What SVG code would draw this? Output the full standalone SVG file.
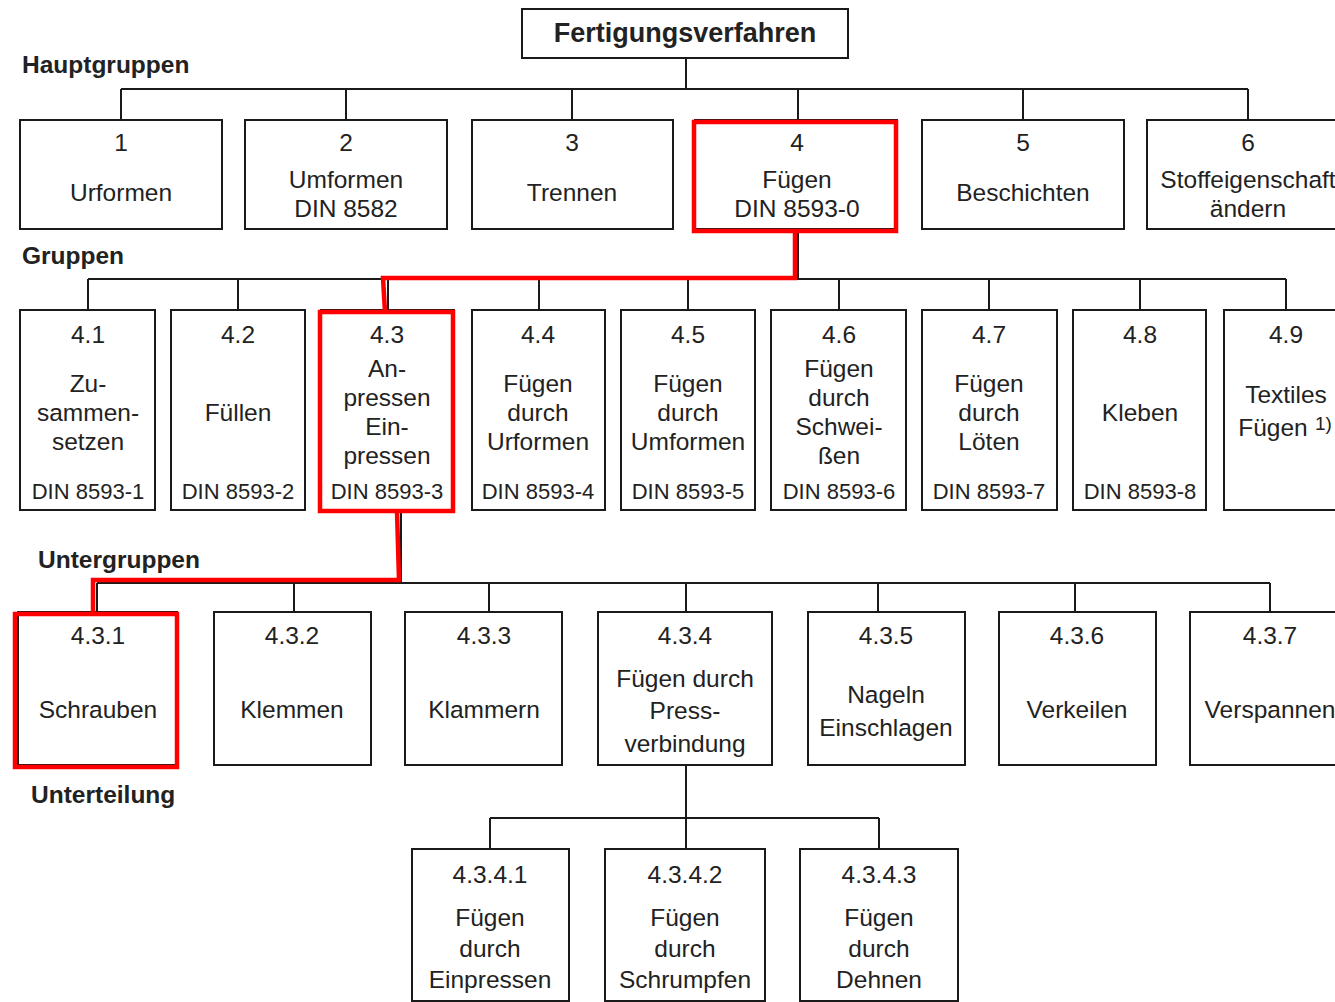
<svg xmlns="http://www.w3.org/2000/svg" width="1335" height="1002" viewBox="0 0 1335 1002">
<style>
  text { font-family: "Liberation Sans", Arial, sans-serif; font-size: 24.5px; fill: #222; text-anchor: middle; }
  .lbl { font-weight: bold; text-anchor: start; }
  .title { font-weight: bold; font-size: 27px; }
  .din { font-size: 22px; }
  .sup { font-size: 19px; }
  rect.box { fill: #fff; stroke: #1a1a1a; stroke-width: 2; }
  .conn line, .conn path { stroke: #1a1a1a; stroke-width: 2; fill: none; }
  .hl { fill: none; stroke: #ff0000; stroke-width: 4.5; }
</style>
<rect x="0" y="0" width="1335" height="1002" fill="#fff"/>

<g class="conn" id="connectors">
  <line x1="686" y1="58" x2="686" y2="89"/>
  <line x1="121" y1="89" x2="1248" y2="89"/>
  <line x1="121" y1="89" x2="121" y2="120"/>
  <line x1="346" y1="89" x2="346" y2="120"/>
  <line x1="572" y1="89" x2="572" y2="120"/>
  <line x1="798" y1="89" x2="798" y2="120"/>
  <line x1="1023" y1="89" x2="1023" y2="120"/>
  <line x1="1248" y1="89" x2="1248" y2="120"/>
  <line x1="798" y1="229" x2="798" y2="279"/>
  <line x1="88" y1="279" x2="1286" y2="279"/>
  <line x1="88" y1="279" x2="88" y2="310"/>
  <line x1="238" y1="279" x2="238" y2="310"/>
  <line x1="388" y1="279" x2="388" y2="310"/>
  <line x1="539" y1="279" x2="539" y2="310"/>
  <line x1="688" y1="279" x2="688" y2="310"/>
  <line x1="839" y1="279" x2="839" y2="310"/>
  <line x1="989" y1="279" x2="989" y2="310"/>
  <line x1="1140" y1="279" x2="1140" y2="310"/>
  <line x1="1286" y1="279" x2="1286" y2="310"/>
  <line x1="401" y1="510" x2="401" y2="583"/>
  <line x1="97" y1="583" x2="1270" y2="583"/>
  <line x1="97" y1="583" x2="97" y2="612"/>
  <line x1="294" y1="583" x2="294" y2="612"/>
  <line x1="489" y1="583" x2="489" y2="612"/>
  <line x1="686" y1="583" x2="686" y2="612"/>
  <line x1="878" y1="583" x2="878" y2="612"/>
  <line x1="1075" y1="583" x2="1075" y2="612"/>
  <line x1="1270" y1="583" x2="1270" y2="612"/>
  <line x1="686" y1="765" x2="686" y2="818"/>
  <line x1="490" y1="818" x2="879" y2="818"/>
  <line x1="490" y1="818" x2="490" y2="849"/>
  <line x1="686" y1="818" x2="686" y2="849"/>
  <line x1="879" y1="818" x2="879" y2="849"/>
</g>

<g id="labels">
  <text class="lbl" x="22" y="73">Hauptgruppen</text>
  <text class="lbl" x="22" y="264">Gruppen</text>
  <text class="lbl" x="38" y="568">Untergruppen</text>
  <text class="lbl" x="31" y="803">Unterteilung</text>
</g>

<g id="root">
  <rect class="box" x="522" y="9" width="326" height="49"/>
  <text class="title" x="685" y="42">Fertigungsverfahren</text>
</g>

<g id="hg1"><rect class="box" x="20" y="120" width="202" height="109"/>
  <text x="121" y="151">1</text><text x="121" y="201">Urformen</text></g>
<g id="hg2"><rect class="box" x="245" y="120" width="202" height="109"/>
  <text x="346" y="151">2</text><text x="346" y="188">Umformen</text><text x="346" y="217">DIN 8582</text></g>
<g id="hg3"><rect class="box" x="472" y="120" width="201" height="109"/>
  <text x="572" y="151">3</text><text x="572" y="201">Trennen</text></g>
<g id="hg4"><rect class="box" x="695" y="120" width="202" height="109"/>
  <text x="797" y="151">4</text><text x="797" y="188">Fügen</text><text x="797" y="217">DIN 8593-0</text></g>
<g id="hg5"><rect class="box" x="922" y="120" width="202" height="109"/>
  <text x="1023" y="151">5</text><text x="1023" y="201">Beschichten</text></g>
<g id="hg6"><rect class="box" x="1147" y="120" width="210" height="109"/>
  <text x="1248" y="151">6</text><text x="1248" y="188">Stoffeigenschaft</text><text x="1248" y="217">ändern</text></g>

<g id="g41"><rect class="box" x="20" y="310" width="135" height="200"/>
  <text x="88" y="343">4.1</text><text x="88" y="392">Zu-</text><text x="88" y="421">sammen-</text><text x="88" y="450">setzen</text><text class="din" x="88" y="499">DIN 8593-1</text></g>
<g id="g42"><rect class="box" x="171" y="310" width="134" height="200"/>
  <text x="238" y="343">4.2</text><text x="238" y="421">Füllen</text><text class="din" x="238" y="499">DIN 8593-2</text></g>
<g id="g43"><rect class="box" x="321" y="310" width="133" height="200"/>
  <text x="387" y="343">4.3</text><text x="387" y="377">An-</text><text x="387" y="406">pressen</text><text x="387" y="435">Ein-</text><text x="387" y="464">pressen</text><text class="din" x="387" y="499">DIN 8593-3</text></g>
<g id="g44"><rect class="box" x="472" y="310" width="133" height="200"/>
  <text x="538" y="343">4.4</text><text x="538" y="392">Fügen</text><text x="538" y="421">durch</text><text x="538" y="450">Urformen</text><text class="din" x="538" y="499">DIN 8593-4</text></g>
<g id="g45"><rect class="box" x="621" y="310" width="134" height="200"/>
  <text x="688" y="343">4.5</text><text x="688" y="392">Fügen</text><text x="688" y="421">durch</text><text x="688" y="450">Umformen</text><text class="din" x="688" y="499">DIN 8593-5</text></g>
<g id="g46"><rect class="box" x="771" y="310" width="135" height="200"/>
  <text x="839" y="343">4.6</text><text x="839" y="377">Fügen</text><text x="839" y="406">durch</text><text x="839" y="435">Schwei-</text><text x="839" y="464">ßen</text><text class="din" x="839" y="499">DIN 8593-6</text></g>
<g id="g47"><rect class="box" x="922" y="310" width="135" height="200"/>
  <text x="989" y="343">4.7</text><text x="989" y="392">Fügen</text><text x="989" y="421">durch</text><text x="989" y="450">Löten</text><text class="din" x="989" y="499">DIN 8593-7</text></g>
<g id="g48"><rect class="box" x="1073" y="310" width="133" height="200"/>
  <text x="1140" y="343">4.8</text><text x="1140" y="421">Kleben</text><text class="din" x="1140" y="499">DIN 8593-8</text></g>
<g id="g49"><rect class="box" x="1224" y="310" width="130" height="200"/>
  <text x="1286" y="403">Textiles</text><text x="1286" y="343">4.9</text><text x="1273" y="436">Fügen</text><text class="sup" x="1315" y="430" style="text-anchor:start">1)</text></g>

<g id="u431"><rect class="box" x="18" y="612" width="159" height="153"/>
  <text x="98" y="644">4.3.1</text><text x="98" y="718">Schrauben</text></g>
<g id="u432"><rect class="box" x="214" y="612" width="157" height="153"/>
  <text x="292" y="644">4.3.2</text><text x="292" y="718">Klemmen</text></g>
<g id="u433"><rect class="box" x="405" y="612" width="157" height="153"/>
  <text x="484" y="644">4.3.3</text><text x="484" y="718">Klammern</text></g>
<g id="u434"><rect class="box" x="598" y="612" width="174" height="153"/>
  <text x="685" y="644">4.3.4</text><text x="685" y="687">Fügen durch</text><text x="685" y="719">Press-</text><text x="685" y="752">verbindung</text></g>
<g id="u435"><rect class="box" x="808" y="612" width="157" height="153"/>
  <text x="886" y="644">4.3.5</text><text x="886" y="703">Nageln</text><text x="886" y="736">Einschlagen</text></g>
<g id="u436"><rect class="box" x="999" y="612" width="157" height="153"/>
  <text x="1077" y="644">4.3.6</text><text x="1077" y="718">Verkeilen</text></g>
<g id="u437"><rect class="box" x="1190" y="612" width="160" height="153"/>
  <text x="1270" y="644">4.3.7</text><text x="1270" y="718">Verspannen</text></g>

<g id="t4341"><rect class="box" x="412" y="849" width="157" height="152"/>
  <text x="490" y="883">4.3.4.1</text><text x="490" y="926">Fügen</text><text x="490" y="957">durch</text><text x="490" y="988">Einpressen</text></g>
<g id="t4342"><rect class="box" x="605" y="849" width="160" height="152"/>
  <text x="685" y="883">4.3.4.2</text><text x="685" y="926">Fügen</text><text x="685" y="957">durch</text><text x="685" y="988">Schrumpfen</text></g>
<g id="t4343"><rect class="box" x="800" y="849" width="158" height="152"/>
  <text x="879" y="883">4.3.4.3</text><text x="879" y="926">Fügen</text><text x="879" y="957">durch</text><text x="879" y="988">Dehnen</text></g>

<g id="highlight">
  <rect class="hl" x="694" y="122" width="202" height="109"/>
  <path class="hl" d="M795 231 V278 H383 L385 312"/>
  <rect class="hl" x="320" y="312" width="133" height="199"/>
  <path class="hl" d="M397 511 L399 580 H93 V614"/>
  <rect class="hl" x="15" y="614" width="162" height="153"/>
</g>
</svg>
